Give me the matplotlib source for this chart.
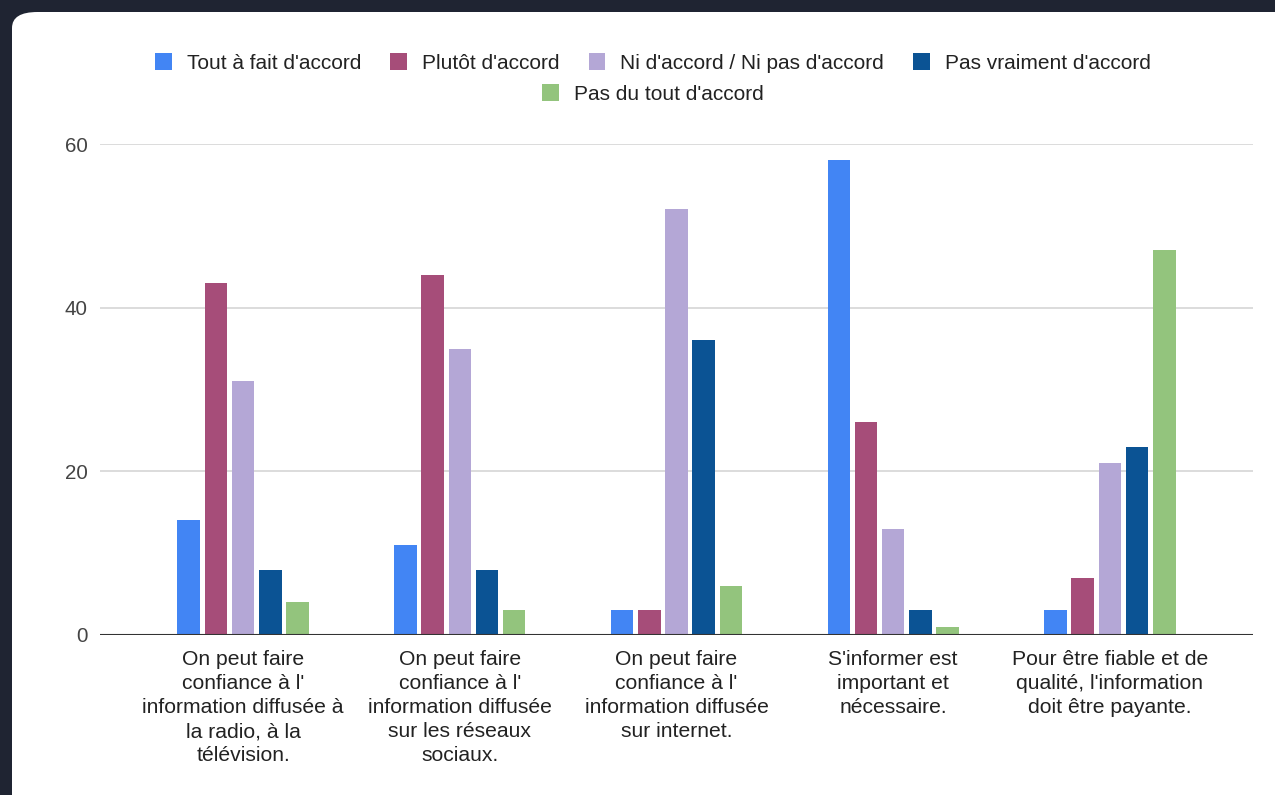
import matplotlib.pyplot as plt
import numpy as np
from matplotlib.patches import Patch, FancyBboxPatch

plt.rcParams['font.family'] = ['Liberation Sans', 'DejaVu Sans']

questions = [
    "On peut faire\nconfiance à l'\ninformation diffusée à\nla radio, à la\ntélévision.",
    "On peut faire\nconfiance à l'\ninformation diffusée\nsur les réseaux\nsociaux.",
    "On peut faire\nconfiance à l'\ninformation diffusée\nsur internet.",
    "S'informer est\nimportant et\nnécessaire.",
    "Pour être fiable et de\nqualité, l'information\ndoit être payante.",
]
answers = ["Tout à fait d'accord", "Plutôt d'accord", "Ni d'accord / Ni pas d'accord",
           "Pas vraiment d'accord", "Pas du tout d'accord"]
tout_a_fait = [14, 11, 3, 58, 3]
plutot = [43, 44, 3, 26, 7]
ni_ni = [31, 35, 52, 13, 21]
pas_vraiment = [8, 8, 36, 3, 23]
pas_du_tout = [4, 3, 6, 1, 47]
yticks = [0, 20, 40, 60]

series = [tout_a_fait, plutot, ni_ni, pas_vraiment, pas_du_tout]
colors = ['#4285f4', '#a64d79', '#b4a7d6', '#0b5394', '#93c47d']

fig = plt.figure(figsize=(12.75, 7.95), dpi=100, facecolor='#1f2432')

# white card behind the chart
card = FancyBboxPatch((12 / 1275, -0.05), 1.1, 1.05 - 12 / 795,
                      boxstyle='round,pad=0,rounding_size=0.02',
                      transform=fig.transFigure, facecolor='white',
                      edgecolor='none', zorder=-5)
fig.patches.append(card)

ax = fig.add_axes([100 / 1275, 160 / 795, 1153 / 1275, 491 / 795])
ax.set_facecolor('none')

x = np.arange(len(questions))
step = 0.1255
width = 0.104
for i, (vals, c) in enumerate(zip(series, colors)):
    ax.bar(x + (i - 2) * step, vals, width=width, color=c, zorder=3)

ax.set_xlim(-0.66, len(questions) - 1 + 0.66)
ax.set_ylim(0, 60)
ax.set_yticks(yticks)
ax.yaxis.grid(True, color='#d6d6d6', linewidth=1.2, zorder=0)
ax.axhline(0, color='#333333', linewidth=1.5, zorder=4)
for s in ax.spines.values():
    s.set_visible(False)
ax.tick_params(axis='y', length=0, pad=9, labelsize=14.8, labelcolor='#444444')
ax.tick_params(axis='x', length=0, pad=11, labelsize=15.2, labelcolor='#222222')
ax.set_xticks(x)
ax.set_xticklabels(questions, linespacing=1.33)

handles = [Patch(facecolor=c) for c in colors]
leg_kw = dict(frameon=False, fontsize=15, handlelength=0.8, handleheight=0.85,
              handletextpad=0.72, columnspacing=1.4, labelcolor='#222222',
              borderaxespad=0, borderpad=0)
leg1 = fig.legend(handles[:4], answers[:4], ncol=4, loc='center',
                  bbox_to_anchor=(653 / 1275, 1 - 63 / 795), **leg_kw)
leg2 = fig.legend(handles[4:], answers[4:], ncol=1, loc='center',
                  bbox_to_anchor=(653 / 1275, 1 - 94 / 795), **leg_kw)

fig.savefig('out.png', dpi=100, facecolor=fig.get_facecolor())
